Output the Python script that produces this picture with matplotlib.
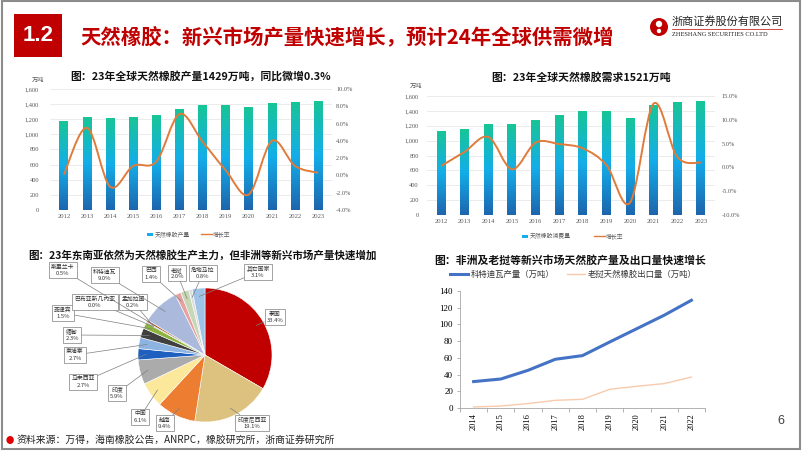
import numpy as np
import matplotlib
matplotlib.use('Agg')
import matplotlib.pyplot as plt
from matplotlib.path import Path
from matplotlib.patches import PathPatch, Rectangle, Circle
from matplotlib.colors import LinearSegmentedColormap
from matplotlib.ticker import FuncFormatter, MultipleLocator

plt.rcParams['font.family'] = ['Noto Sans CJK SC', 'DejaVu Sans']

W, H = 802, 451

# ---- data ----
years = ['2012', '2013', '2014', '2015', '2016', '2017', '2018', '2019', '2020', '2021', '2022', '2023']
prod = [1168, 1226, 1212, 1226, 1256, 1335, 1388, 1388, 1358, 1406, 1424, 1429]
prod_yoy = [0.1, 5.5, -1.3, 1.1, 1.6, 7.1, 3.9, 0.6, -2.2, 4.0, 1.1, 0.3]
demand = [1116, 1152, 1223, 1219, 1273, 1335, 1389, 1385, 1291, 1466, 1510, 1521]
demand_yoy = [0.3, 3.3, 6.4, -0.4, 5.2, 4.9, 4.0, 0.5, -7.4, 13.4, 2.2, 1.0]

pie_names = ['泰国', '印度尼西亚', '越南', '中国', '印度', '马来西亚', '柬埔寨', '缅甸', '菲律宾',
             '巴布亚新几内亚', '孟加拉国', '斯里兰卡', '科特迪瓦', '巴西', '老挝', '危地马拉', '其它国家']
pie_shares = [33.4, 19.1, 9.4, 6.1, 5.9, 2.7, 2.7, 2.3, 1.5, 0.0, 0.2, 0.5, 9.0, 1.4, 2.0, 0.8, 3.1]
pie_colors = ['#C00000', '#DCC27E', '#ED7D31', '#FBE89B', '#ABABAB', '#1F5FBF', '#8DB3E2', '#404040',
              '#8DB43E', '#7F7F7F', '#264478', '#9E480E', '#AAB9DC', '#E6A1A1', '#C5D7B5', '#DDDDDD', '#9DC3E6']
# label box centres (pixels, from top-left)
pie_label_pos = [(275, 317), (252, 423), (165, 423), (140, 417), (117, 393), (83, 382), (75, 355),
                 (72, 335), (63, 313), (95, 302), (133, 302), (63, 270), (105, 275), (151, 274),
                 (177, 273), (203, 273), (258, 272)]

line_years = ['2014', '2015', '2016', '2017', '2018', '2019', '2020', '2021', '2022']
civ_output = [31.6, 34.7, 45.1, 58.3, 62.7, 79.0, 95.0, 111.0, 128.9]
laos_export = [1.2, 2.4, 5.3, 9.2, 10.4, 22.4, 26.0, 29.2, 37.0]

SERIF = 'Liberation Serif'
GRAY = '#595959'


def rect(x0, y0, x1, y1):
    return [x0 / W, 1 - y1 / H, (x1 - x0) / W, (y1 - y0) / H]


def smooth_path(xs, ys):
    pts = np.column_stack([xs, ys]).astype(float)
    ext = np.vstack([pts[0], pts, pts[-1]])
    verts = [pts[0]]
    codes = [Path.MOVETO]
    for i in range(len(pts) - 1):
        p0, p1, p2, p3 = ext[i], ext[i + 1], ext[i + 2], ext[i + 3]
        verts += [p1 + (p2 - p0) / 6, p2 - (p3 - p1) / 6, p2]
        codes += [Path.CURVE4] * 3
    return Path(verts, codes)


grad_cmap = LinearSegmentedColormap.from_list(
    'g', [(0, '#1D66AE'), (0.5, '#13AEEA'), (1.0, '#17C597')])
grad = np.linspace(0, 1, 64).reshape(-1, 1)

fig = plt.figure(figsize=(W / 100, H / 100), dpi=100)
fig.patch.set_facecolor('white')

# background axes in pixel units (y up)
bg = fig.add_axes([0, 0, 1, 1])
bg.set_xlim(0, W)
bg.set_ylim(0, H)
bg.axis('off')


def Y(y):
    return H - y


# border
bg.add_patch(Rectangle((2, 2), W - 4, H - 3, fill=False, ec='#8C8C8C', lw=1.5))

# header
bg.add_patch(Rectangle((14, Y(57)), 48, 43, fc='#C00000', ec='none'))
bg.text(38, Y(35.5), '1.2', color='white', fontsize=16, fontweight='bold',
        family='Liberation Sans', ha='center', va='center')
bg.text(80, Y(37), '天然橡胶：新兴市场产量快速增长，预计24年全球供需微增', color='#C00000',
        fontsize=14.7, fontweight='bold', ha='left', va='center')
# logo
bg.add_patch(Circle((659, Y(27)), 9, fc='#C00000', ec='none'))
bg.add_patch(Circle((659, Y(24)), 3.2, fc='white', ec='none'))
bg.add_patch(Circle((659, Y(31)), 2.2, fc='white', ec='none'))
bg.text(672, Y(21), '浙商证券股份有限公司', fontsize=8, color='#222222', ha='left', va='center')
bg.plot([672, 782], [Y(29), Y(29)], color='#C00000', lw=0.5)
bg.text(672, Y(35), 'ZHESHANG SECURITIES CO.LTD', fontsize=4.6, family=SERIF,
        color='#222222', ha='left', va='center')

# footnote and page number
bg.text(10, Y(440), '●', color='#E00000', fontsize=6, ha='center', va='center')
bg.text(17, Y(440), '资料来源：万得，海南橡胶公告，ANRPC，橡胶研究所，浙商证券研究所',
        fontsize=7.1, color='#222222', ha='left', va='center')
bg.text(781, Y(421), '6', fontsize=9, color='#404040', ha='center', va='center',
        family='Liberation Sans')


def bar_panel(box, values, yoy, y2lim, y2step, title, title_xy, unit_xy, leg_label, leg_xy,
              line_x, lpad, rpad):
    ax = fig.add_axes(rect(*box))
    ax.set_facecolor('none')
    x = np.arange(len(years))
    bars = ax.bar(x, values, 0.38, color='none', zorder=2)
    for b in bars:
        x0, y0 = b.get_xy()
        ax.imshow(grad, extent=[x0, x0 + b.get_width(), y0, y0 + b.get_height()],
                  origin='lower', aspect='auto', cmap=grad_cmap, zorder=2)
    ax.set_xlim(-0.6, len(years) - 0.4)
    ax.set_ylim(0, 1600)
    ax.yaxis.set_major_locator(MultipleLocator(200))
    ax.yaxis.set_major_formatter(FuncFormatter(lambda v, p: f'{v:,.0f}'))
    ax.grid(axis='y', color='#E8E8E8', lw=0.6, zorder=0)
    ax.set_axisbelow(True)
    for s in ax.spines.values():
        s.set_visible(False)
    ax.set_xticks(x)
    ax.set_xticklabels(years, family=SERIF, fontsize=4.8, color=GRAY)
    ax.tick_params(axis='x', length=0, pad=3)
    ax.tick_params(axis='y', length=0, pad=lpad, labelsize=4.6, labelcolor=GRAY)
    for lab in ax.get_yticklabels():
        lab.set_family(SERIF)

    ax2 = ax.twinx()
    ax2.set_ylim(*y2lim)
    ax2.yaxis.set_major_locator(MultipleLocator(y2step))
    ax2.yaxis.set_major_formatter(FuncFormatter(lambda v, p: f'{v:.1f}%'))
    ax2.tick_params(axis='y', length=0, pad=rpad, labelsize=4.6, labelcolor=GRAY)
    for lab in ax2.get_yticklabels():
        lab.set_family(SERIF)
    for s in ax2.spines.values():
        s.set_visible(False)
    ax2.add_patch(PathPatch(smooth_path(x, yoy), fill=False, ec='#E07B39', lw=1.4, zorder=3))

    bg.text(title_xy[0], Y(title_xy[1]), title, fontsize=7.8, fontweight='bold',
            ha='center', va='center', color='#111111')
    bg.text(unit_xy[0], Y(unit_xy[1]), '万吨', fontsize=4.5, ha='center', va='center', color=GRAY)
    lx, ly = leg_xy
    bg.add_patch(Rectangle((lx, Y(ly) - 1.5), 6, 3, fc='#13AEEA', ec='none'))
    bg.text(lx + 8, Y(ly), leg_label, fontsize=4.2, ha='left', va='center', color=GRAY)
    bg.plot([line_x, line_x + 11], [Y(ly), Y(ly)], color='#E07B39', lw=1.0)
    bg.text(line_x + 12, Y(ly), '增长率', fontsize=4.2, ha='left', va='center', color=GRAY)
    return ax


bar_panel((50, 89, 332, 210), prod, prod_yoy, (-4, 10), 2,
          '图：23年全球天然橡胶产量1429万吨，同比微增0.3%', (201, 76), (38, 80),
          '天然橡胶产量', (147, 234), 201, 8, 3)
bar_panel((427, 96, 715, 215), demand, demand_yoy, (-10, 15), 5,
          '图：23年全球天然橡胶需求1521万吨', (581, 77), (416, 86),
          '天然橡胶消费量', (522, 236), 594, 6, 5)

# ---- pie ----
bg.text(202, Y(255), '图：23年东南亚依然为天然橡胶生产主力，但非洲等新兴市场产量快速增加',
        fontsize=7.6, fontweight='bold', ha='center', va='center', color='#111111')
pc = (205, Y(355))
pr = 67
wedges, _ = bg.pie(pie_shares, colors=pie_colors, startangle=90, counterclock=False,
                   radius=pr, center=pc, wedgeprops=dict(edgecolor='white', linewidth=0.4))
bg.set_xlim(0, W)
bg.set_ylim(0, H)
bg.set_aspect('auto')
bg.axis('off')
for w, name, share, pos in zip(wedges, pie_names, pie_shares, pie_label_pos):
    th = np.deg2rad((w.theta1 + w.theta2) / 2)
    pt = (pc[0] + 0.88 * pr * np.cos(th), pc[1] + 0.88 * pr * np.sin(th))
    bg.annotate(f'{name}\n{share:.1f}%', xy=pt, xytext=(pos[0], Y(pos[1])),
                ha='center', va='center', fontsize=4.2, color='#333333', linespacing=1.3,
                bbox=dict(boxstyle='square,pad=0.35', fc='white', ec='#7F7F7F', lw=0.5),
                arrowprops=dict(arrowstyle='-', color='#7F7F7F', lw=0.5, shrinkA=0, shrinkB=0))

# ---- line chart ----
bg.text(570, Y(260), '图：非洲及老挝等新兴市场天然胶产量及出口量快速增长',
        fontsize=7.8, fontweight='bold', ha='center', va='center', color='#111111')
ax4 = fig.add_axes(rect(460, 291, 705, 408))
ax4.set_facecolor('none')
xl = np.arange(len(line_years))
ax4.plot(xl, civ_output, color='#4472C4', lw=2.2, label='科特迪瓦产量（万吨）')
ax4.plot(xl, laos_export, color='#F8CBAD', lw=1.0, label='老挝天然橡胶出口量（万吨）')
ax4.set_xlim(-0.5, len(line_years) - 0.5)
ax4.set_ylim(0, 140)
ax4.yaxis.set_major_locator(MultipleLocator(20))
ax4.set_xticks(xl)
ax4.set_xticklabels(line_years, rotation=90, family=SERIF, fontsize=6)
ax4.set_xticks(np.arange(-0.5, len(line_years)), minor=True)
ax4.tick_params(axis='x', which='major', length=0, pad=4)
ax4.tick_params(axis='x', which='minor', length=3, color='#A6A6A6', width=0.6)
ax4.tick_params(axis='y', length=2, color='#A6A6A6', width=0.6, pad=3, labelsize=6.5)
for lab in ax4.get_yticklabels():
    lab.set_family(SERIF)
for s in ['top', 'right']:
    ax4.spines[s].set_visible(False)
for s in ['left', 'bottom']:
    ax4.spines[s].set_color('#A6A6A6')
    ax4.spines[s].set_linewidth(0.6)
ax4.legend(loc='center', bbox_to_anchor=((573 - 460) / 245, (408 - 274) / 117), ncol=2,
           frameon=False, fontsize=6, handlelength=2.2, columnspacing=1.5, handletextpad=0.3,
           labelcolor='#333333')

fig.savefig('out.png', dpi=100)
